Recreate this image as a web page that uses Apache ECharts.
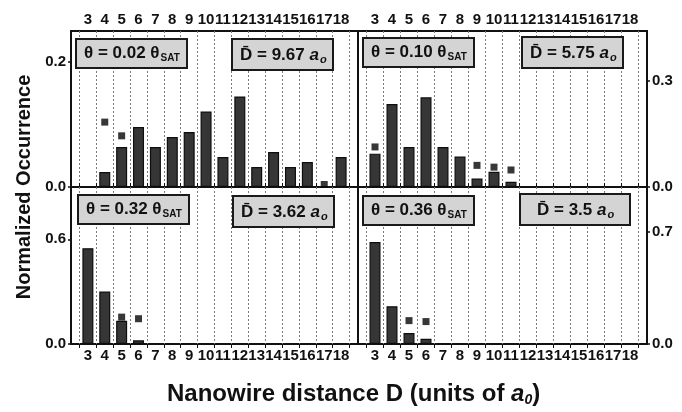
<!DOCTYPE html>
<html>
<head>
<meta charset="utf-8">
<script src="https://cdn.jsdelivr.net/npm/echarts@6/dist/echarts.min.js"></script>
<style>
  html, body { margin: 0; padding: 0; background: #fff; }
  #chart { width: 682px; height: 412px; }
</style>
</head>
<body>
<div id="chart"></div>
<script>
// nanowire distance D (units of a0)
const distances = [3, 4, 5, 6, 7, 8, 9, 10, 11, 12, 13, 14, 15, 16, 17, 18];

// measured occurrence (bars), one array per coverage
const bars002 = [0, 0.024, 0.064, 0.096, 0.064, 0.080, 0.088, 0.121, 0.048, 0.145, 0.032, 0.056, 0.032, 0.040, 0, 0.048];
const bars010 = [0.094, 0.234, 0.113, 0.253, 0.113, 0.086, 0.024, 0.043, 0.015, 0, 0, 0, 0, 0, 0, 0];
const bars032 = [0.549, 0.301, 0.133, 0.021, 0, 0, 0, 0, 0, 0, 0, 0, 0, 0, 0, 0];
const bars036 = [0.637, 0.236, 0.069, 0.033, 0, 0, 0, 0, 0, 0, 0, 0, 0, 0, 0, 0];

// square markers
const markD002 = [4, 5, 17];
const markV002 = [0.104, 0.082, 0.004];
const markD010 = [3, 9, 10, 11];
const markV010 = [0.113, 0.061, 0.056, 0.048];
const markD032 = [5, 6];
const markV032 = [0.154, 0.145];
const markD036 = [5, 6];
const markV036 = [0.146, 0.140];

// y tick labels per panel
const yTicks002 = [0, 0.2];
const yTicks010 = [0, 0.3];
const yTicks032 = [0, 0.6];
const yTicks036 = [0, 0.7];

const coverages = ['0.02', '0.10', '0.32', '0.36'];
const meanD = ['9.67', '5.75', '3.62', '3.5'];

const FONT = '"Liberation Sans", Arial, sans-serif';

const grids = [
  { left: 71, top: 31, width: 287, height: 156 },
  { left: 358, top: 31, width: 289, height: 156 },
  { left: 71, top: 187, width: 287, height: 157 },
  { left: 358, top: 187, width: 289, height: 157 }
].map(g => Object.assign(g, {
  show: true, borderColor: '#111', borderWidth: 2, backgroundColor: 'transparent',
  outerBoundsMode: 'none', containLabel: false
}));

function xAxis(i, position) {
  return {
    type: 'value', gridIndex: i, position: position,
    min: 2, max: 19, interval: 1,
    axisLine: { show: false },
    axisTick: { show: false },
    splitLine: { show: false },
    minorTick: { show: true, splitNumber: 2, length: 4, lineStyle: { color: '#111', width: 1 } },
    minorSplitLine: { show: true, lineStyle: { color: '#7a7a7a', type: [2, 2], width: 1 } },
    axisLabel: {
      margin: 4,
      color: '#111', fontSize: 15, fontWeight: 'bold', fontFamily: FONT,
      showMinLabel: true, showMaxLabel: true, hideOverlap: false,
      formatter: v => (v >= 3 && v <= 18) ? String(v) : ''
    }
  };
}

function yAxis(i, position, max, interval, ticks) {
  return {
    type: 'value', gridIndex: i, position: position,
    min: 0, max: max, interval: interval,
    axisLine: { show: false },
    axisTick: { show: true, length: 3, lineStyle: { color: '#111', width: 1.5 } },
    splitLine: { show: false },
    axisLabel: {
      margin: 5, color: '#111', fontSize: 15, fontWeight: 'bold', fontFamily: FONT,
      showMaxLabel: false,
      formatter: v => ticks.some(t => Math.abs(t - v) < 1e-9) ? v.toFixed(1) : ''
    }
  };
}

function barSeries(i, vals) {
  return {
    type: 'bar', xAxisIndex: i, yAxisIndex: i, barWidth: 11,
    data: distances.map((d, k) => [d, vals[k]]).filter(p => p[1] > 0),
    itemStyle: { color: '#363636', borderColor: '#0e0e0e', borderWidth: 1.2 },
    silent: true
  };
}

function markSeries(i, ds, vs) {
  return {
    type: 'scatter', xAxisIndex: i, yAxisIndex: i,
    symbol: 'rect', symbolSize: 7,
    data: ds.map((d, k) => [d, vs[k]]),
    itemStyle: { color: '#050505' },
    silent: true
  };
}

const boxRich = {
  sub: { fontSize: 10, fontWeight: 'bold', fontFamily: FONT, color: '#111', padding: [10, 0, 0, 1] },
  a: { fontSize: 17, fontWeight: 'bold', fontStyle: 'italic', fontFamily: FONT, color: '#111' },
  o: { fontSize: 11, fontWeight: 'bold', fontStyle: 'italic', fontFamily: FONT, color: '#111', padding: [9, 0, 0, 1] }
};

function box(text, left, top, padding) {
  return {
    text: text, left: left, top: top, padding: padding,
    backgroundColor: '#d4d4d4', borderColor: '#1a1a1a', borderWidth: 2,
    textStyle: { fontSize: 17, fontWeight: 'bold', fontFamily: FONT, color: '#111', rich: boxRich }
  };
}

const thetaPos = [[76, 37], [363, 36], [78, 193], [363, 194]];
const dPos = [[232, 37], [522, 35], [233, 194], [520, 192]];

const titles = [];
coverages.forEach((c, k) => {
  titles.push(box('\u03b8 = ' + c + ' \u03b8{sub|SAT}', thetaPos[k][0], thetaPos[k][1], [6, 7, 5, 8]));
  const extra = meanD[k].length < 4 ? 9 : 0;
  titles.push(box('D\u0304 = ' + meanD[k] + ' {a|a}{o|o}', dPos[k][0], dPos[k][1], [8, 7 + extra, 5, 8 + extra]));
});
titles.push({
  text: 'Nanowire distance D (units of {a|a}{o|0})',
  left: 162, top: 376,
  textStyle: {
    fontSize: 24, fontWeight: 'bold', fontFamily: FONT, color: '#111',
    rich: {
      a: { fontSize: 24, fontWeight: 'bold', fontStyle: 'italic', fontFamily: FONT, color: '#111' },
      o: { fontSize: 14, fontWeight: 'bold', fontStyle: 'italic', fontFamily: FONT, color: '#111', padding: [12, 0, 0, 0] }
    }
  }
});

const chart = echarts.init(document.getElementById('chart'), null, { renderer: 'canvas' });
chart.setOption({
  animation: false,
  backgroundColor: '#ffffff',
  title: titles,
  grid: grids,
  xAxis: [xAxis(0, 'top'), xAxis(1, 'top'), xAxis(2, 'bottom'), xAxis(3, 'bottom')],
  yAxis: [
    yAxis(0, 'left', 0.25, 0.2, yTicks002),
    yAxis(1, 'right', 0.44, 0.3, yTicks010),
    yAxis(2, 'left', 0.9, 0.6, yTicks032),
    yAxis(3, 'right', 0.98, 0.7, yTicks036)
  ],
  series: [
    barSeries(0, bars002), barSeries(1, bars010), barSeries(2, bars032), barSeries(3, bars036),
    markSeries(0, markD002, markV002), markSeries(1, markD010, markV010),
    markSeries(2, markD032, markV032), markSeries(3, markD036, markV036)
  ],
  graphic: [{
    type: 'text', x: 24, y: 187, rotation: Math.PI / 2,
    style: {
      text: 'Normalized Occurrence', fill: '#111',
      fontSize: 20, fontWeight: 'bold', fontFamily: FONT,
      align: 'center', verticalAlign: 'middle'
    }
  }]
});
</script>
</body>
</html>
